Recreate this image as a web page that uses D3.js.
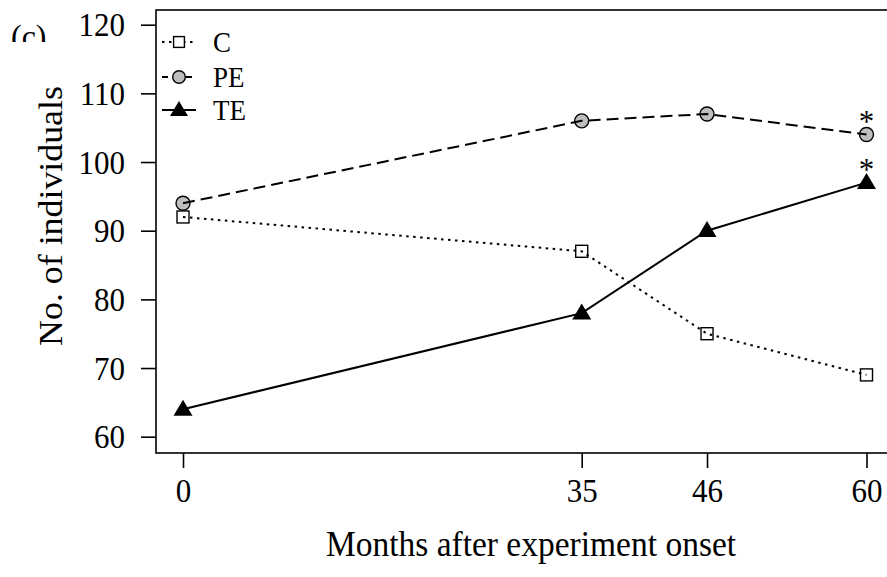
<!DOCTYPE html>
<html>
<head>
<meta charset="utf-8">
<script src="https://cdn.jsdelivr.net/npm/d3@7"></script>
<style>
  html, body { margin: 0; padding: 0; background: #fff; }
  svg { display: block; font-family: "Liberation Serif", "Times New Roman", serif; }
</style>
</head>
<body>
<svg id="chart" width="887" height="577"></svg>
<script>
// Months after the experiment started
const months = [0, 35, 46, 60];
// Number of individuals per treatment
const seriesC  = [92, 87, 75, 69];
const seriesPE = [94, 106, 107, 104];
const seriesTE = [64, 78, 90, 97];
const yTicks = [60, 70, 80, 90, 100, 110, 120];
const seriesNames = ["C", "PE", "TE"];
// Significant differences at the last census
const starred = [{ name: "PE", month: 60 }, { name: "TE", month: 60 }];

const svg = d3.select("#chart");
const box = { left: 156, right: 900, top: 10, bottom: 453 };
const stretch = 1.07; // glyphs are drawn slightly taller than wide

const x = d3.scaleLinear().domain([0, 60]).range([183, 866.5]);
const y = d3.scaleLinear().domain([60, 120]).range([436.7, 24.7]);

// Place a horizontal text with its baseline at (tx, ty), vertically stretched
function stretchedText(sel, tx, ty) {
  return sel.attr("x", 0).attr("y", 0)
    .attr("transform", `translate(${tx},${ty}) scale(1,${stretch})`);
}

// Panel letter, partly hidden
svg.append("clipPath").attr("id", "panelClip")
  .append("rect").attr("x", 0).attr("y", 0).attr("width", 60).attr("height", 42);
stretchedText(svg.append("g").attr("clip-path", "url(#panelClip)").append("text"), 11, 48)
  .attr("font-size", 32).text("(c)");

// Plot frame
svg.append("rect")
  .attr("x", box.left).attr("y", box.top)
  .attr("width", box.right - box.left).attr("height", box.bottom - box.top)
  .attr("fill", "none").attr("stroke", "#000").attr("stroke-width", 1.6);

// Y axis
const yAxis = d3.axisLeft(y).tickValues(yTicks).tickSize(15);
const gy = svg.append("g").attr("transform", `translate(${box.left},0)`).call(yAxis);
gy.select(".domain").remove();
gy.selectAll(".tick line").attr("stroke-width", 1.6);
gy.selectAll(".tick text")
  .attr("font-size", 31).attr("font-family", "Liberation Serif")
  .attr("x", null).attr("dy", null)
  .attr("transform", `translate(-31,11) scale(1,${stretch})`);

// X axis
const xAxis = d3.axisBottom(x).tickValues(months).tickSize(15);
const gx = svg.append("g").attr("transform", `translate(0,${box.bottom})`).call(xAxis);
gx.select(".domain").remove();
gx.selectAll(".tick line").attr("stroke-width", 1.6);
gx.selectAll(".tick text")
  .attr("font-size", 31).attr("font-family", "Liberation Serif")
  .attr("y", null).attr("dy", null)
  .attr("transform", `translate(0,49) scale(1,${stretch})`);

// Axis titles
stretchedText(svg.append("text"), 531, 556)
  .attr("text-anchor", "middle").attr("font-size", 33.5).text("Months after experiment onset");
svg.append("text").attr("transform", `translate(62,216) rotate(-90) scale(${stretch},1)`)
  .attr("text-anchor", "middle").attr("font-size", 33.5).text("No. of individuals");

const styles = {
  C:  { data: seriesC,  dash: "2.5,4.5", shape: "square" },
  PE: { data: seriesPE, dash: "12,6",    shape: "circle" },
  TE: { data: seriesTE, dash: null,      shape: "triangle" }
};

function drawMarker(g, shape, cx, cy, scale) {
  const s = scale || 1;
  if (shape === "square") {
    g.append("rect").attr("x", cx - 6 * s).attr("y", cy - 6 * s)
      .attr("width", 12 * s).attr("height", 12 * s)
      .attr("fill", "#fff").attr("stroke", "#000").attr("stroke-width", 1.4);
  } else if (shape === "circle") {
    g.append("circle").attr("cx", cx).attr("cy", cy).attr("r", 7 * s)
      .attr("fill", "#bebebe").attr("stroke", "#000").attr("stroke-width", 1.4);
  } else {
    const w = 9.5 * s, h = 16 * s;
    g.append("path")
      .attr("d", `M${cx},${cy - h * 0.6}L${cx + w},${cy + h * 0.4}L${cx - w},${cy + h * 0.4}Z`)
      .attr("fill", "#000");
  }
}

const line = d3.line().x((d, i) => x(months[i])).y(d => y(d));
const plot = svg.append("g");

seriesNames.forEach(name => {
  const st = styles[name];
  const g = plot.append("g");
  st.data.forEach((v, i) => drawMarker(g, st.shape, x(months[i]), y(v)));
  g.append("path").datum(st.data).attr("d", line)
    .attr("fill", "none").attr("stroke", "#000").attr("stroke-width", 2)
    .attr("stroke-dasharray", st.dash);
});

// Significance asterisks
starred.forEach(s => {
  const v = styles[s.name].data[months.indexOf(s.month)];
  svg.append("text").attr("x", x(s.month)).attr("y", y(v) - 3)
    .attr("text-anchor", "middle").attr("font-size", 31).text("*");
});

// Legend
const legend = svg.append("g");
const legendY = [42, 77, 110];
seriesNames.forEach((name, i) => {
  const st = styles[name];
  const ly = legendY[i];
  legend.append("line").attr("x1", 162).attr("x2", 196).attr("y1", ly).attr("y2", ly)
    .attr("stroke", "#000").attr("stroke-width", 2)
    .attr("stroke-dasharray", name === "PE" ? "6,6" : st.dash);
  drawMarker(legend, st.shape, 179, ly, name === "TE" ? 0.95 : 0.9);
  stretchedText(legend.append("text"), 213, ly + 9.5)
    .attr("font-size", 27).text(name);
});
</script>
</body>
</html>
